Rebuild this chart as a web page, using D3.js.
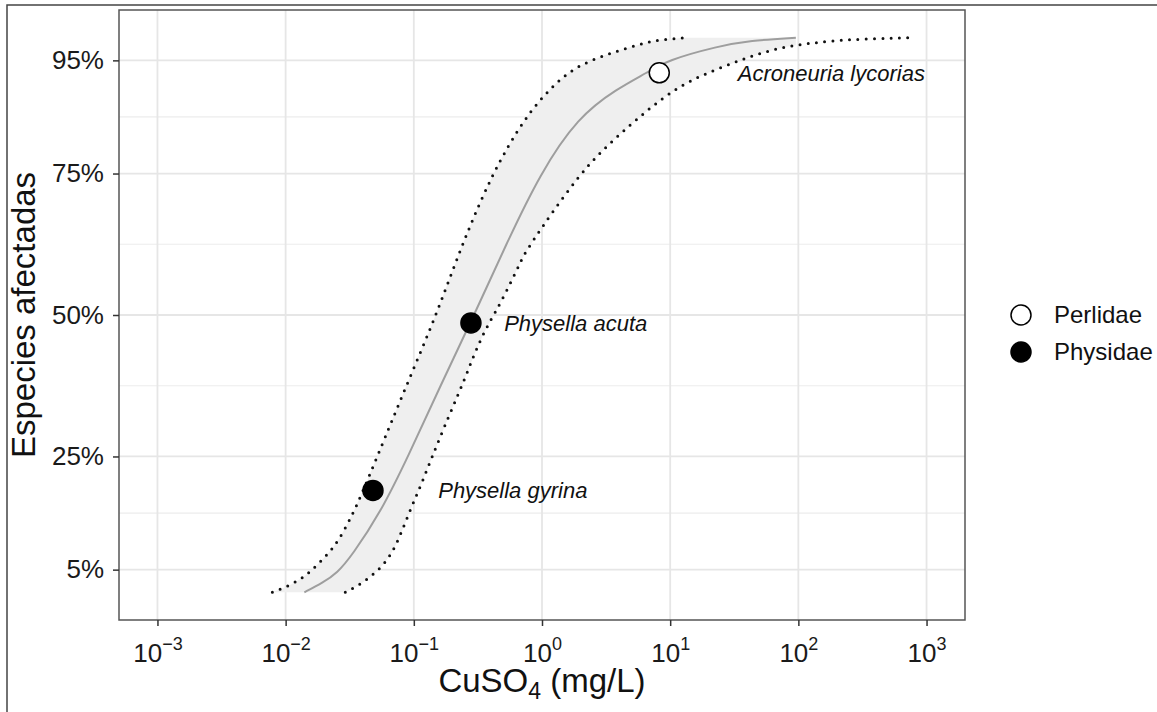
<!DOCTYPE html>
<html>
<head>
<meta charset="utf-8">
<script src="https://cdn.jsdelivr.net/npm/d3@7"></script>
<style>
  body { margin: 0; background: #fff; }
  svg { font-family: "Liberation Sans", Arial, sans-serif; }
</style>
</head>
<body>
<div id="io"></div>
<script>
// axis ticks
const xTicks = [1e-3, 1e-2, 1e-1, 1, 10, 100, 1000];
const xTickExp = ['\u22123', '\u22122', '\u22121', '0', '1', '2', '3'];
const yTicks = [5, 25, 50, 75, 95];
const yTickLabels = ['5%', '25%', '50%', '75%', '95%'];
const yMinor = [15, 37.5, 62.5, 85];

// fitted curve (mg/L vs % affected)
const fitPct = [1, 2.65, 4.4, 7.6, 15, 25, 37.5, 50, 62.5, 75, 85, 90, 92.9, 95, 97.5, 98.5, 99];
const fitConc = [0.014, 0.0193, 0.0253, 0.0331, 0.0547, 0.0904, 0.161, 0.296, 0.525, 0.966, 1.91, 3.85, 6.71, 9.44, 23.6, 41.9, 95.6];

// lower confidence limit (left dotted line)
const lowPct = [1, 2, 3.5, 5, 7.5, 10, 15, 19, 25, 37.5, 50, 62.5, 75, 85, 90, 92.5, 94.1, 95.4, 96.4, 97.3, 98.2, 98.7, 99];
const lowConc = [0.00788, 0.0103, 0.0135, 0.0162, 0.0208, 0.0258, 0.0337, 0.0403, 0.0519, 0.0873, 0.150, 0.238, 0.408, 0.738, 1.16, 1.54, 1.98, 2.69, 3.58, 4.86, 6.59, 8.79, 13.3];

// upper confidence limit (right dotted line)
const upPct = [1, 2, 3.4, 5.4, 7.5, 9.8, 13.3, 16.8, 20.4, 25, 32.7, 38, 42.6, 47.4, 50.4, 54.4, 59.2, 61.5, 75.2, 80.9, 86.2, 90.6, 93.2, 95.5, 97.3, 98.1, 98.7, 99];
const upConc = [0.0292, 0.0356, 0.0441, 0.0557, 0.0655, 0.0742, 0.0857, 0.0989, 0.116, 0.139, 0.192, 0.243, 0.290, 0.360, 0.431, 0.535, 0.675, 0.752, 1.98, 3.58, 6.59, 11.9, 21.6, 39.7, 71.8, 130, 239, 714];

// species points
const species = ['Physella gyrina', 'Physella acuta', 'Acroneuria lycorias'];
const speciesFamily = ['Physidae', 'Physidae', 'Perlidae'];
const speciesConc = [0.048, 0.279, 8.22];
const speciesPct = [19.0, 48.6, 92.8];
const labelConc = [0.155, 0.507, 33.7];

const families = ['Perlidae', 'Physidae'];
const familyFill = ['#fff', '#000'];

const W = 1157, H = 712;
const svg = d3.select('#io').append('svg').attr('width', W).attr('height', H);

// outer frame
svg.append('rect').attr('x', 7).attr('y', 5).attr('width', W + 10).attr('height', H + 10)
  .attr('fill', '#fff').attr('stroke', '#444').attr('stroke-width', 1.5);

const x = d3.scaleLog().domain([Math.pow(10, -3.3), Math.pow(10, 3.3)]).range([119, 965]);
const y = d3.scaleLinear().domain([-3.9, 103.9]).range([620, 10]);

const defs = svg.append('defs');
defs.append('clipPath').attr('id', 'panel').append('rect')
  .attr('x', 119).attr('y', 10).attr('width', 846).attr('height', 610);
defs.append('clipPath').attr('id', 'ribbon').append('rect')
  .attr('x', 119).attr('y', 10).attr('width', x(d3.max(fitConc)) - 119).attr('height', 610);

// grid
const grid = svg.append('g');
grid.selectAll('.ymin').data(yMinor).enter().append('line')
  .attr('x1', 119).attr('x2', 965).attr('y1', d => y(d)).attr('y2', d => y(d))
  .attr('stroke', '#ececec').attr('stroke-width', 1.2);
grid.selectAll('.ymaj').data(yTicks).enter().append('line')
  .attr('x1', 119).attr('x2', 965).attr('y1', d => y(d)).attr('y2', d => y(d))
  .attr('stroke', '#e6e6e6').attr('stroke-width', 1.8);
grid.selectAll('.xmaj').data(xTicks).enter().append('line')
  .attr('y1', 10).attr('y2', 620).attr('x1', d => x(d)).attr('x2', d => x(d))
  .attr('stroke', '#e6e6e6').attr('stroke-width', 1.8);

const fit = fitPct.map((p, i) => ({ p: p, c: fitConc[i] }));
const low = lowPct.map((p, i) => ({ p: p, c: lowConc[i] }));
const up = upPct.map((p, i) => ({ p: p, c: upConc[i] }));

const line = d3.line().x(d => x(d.c)).y(d => y(d.p)).curve(d3.curveBasis);

const plot = svg.append('g').attr('clip-path', 'url(#panel)');

// ribbon between the confidence limits
plot.append('path')
  .attr('d', line(low) + line(up.slice().reverse()).replace(/^M/, 'L') + 'Z')
  .attr('fill', '#efefef')
  .attr('clip-path', 'url(#ribbon)');

plot.append('path').attr('d', line(fit))
  .attr('fill', 'none').attr('stroke', '#9e9e9e').attr('stroke-width', 2);

[low, up].forEach(ci => {
  plot.append('path').attr('d', line(ci))
    .attr('fill', 'none').attr('stroke', '#111').attr('stroke-width', 3)
    .attr('stroke-linecap', 'round').attr('stroke-dasharray', '0 8.3');
});

// points
plot.selectAll('.pt').data(species).enter().append('circle')
  .attr('cx', (d, i) => x(speciesConc[i]))
  .attr('cy', (d, i) => y(speciesPct[i]))
  .attr('r', 10)
  .attr('fill', (d, i) => familyFill[families.indexOf(speciesFamily[i])])
  .attr('stroke', '#000').attr('stroke-width', 1.5);

plot.selectAll('.lab').data(species).enter().append('text')
  .attr('x', (d, i) => x(labelConc[i]))
  .attr('y', (d, i) => y(speciesPct[i]))
  .attr('dy', '0.35em')
  .attr('font-size', 22).attr('font-style', 'italic').attr('fill', '#111')
  .text(d => d);

// panel border
svg.append('rect').attr('x', 119).attr('y', 10).attr('width', 846).attr('height', 610)
  .attr('fill', 'none').attr('stroke', '#555').attr('stroke-width', 1.5);

// axes
const yAxis = svg.append('g').attr('transform', 'translate(119,0)')
  .call(d3.axisLeft(y).tickValues(yTicks).tickFormat((d, i) => yTickLabels[i]).tickSize(6).tickPadding(9));
const xAxis = svg.append('g').attr('transform', 'translate(0,620)')
  .call(d3.axisBottom(x).tickValues(xTicks).tickSize(6));

[yAxis, xAxis].forEach(a => {
  a.select('.domain').remove();
  a.selectAll('.tick line').attr('stroke', '#333').attr('stroke-width', 1.5);
  a.selectAll('text').attr('font-size', 26).attr('fill', '#1a1a1a')
    .attr('font-family', '"Liberation Sans", Arial, sans-serif');
});

xAxis.selectAll('.tick text').each(function (d, i) {
  const t = d3.select(this).text(null).attr('y', 42).attr('dy', null);
  t.append('tspan').text('10');
  t.append('tspan').attr('dy', -12).attr('font-size', 18).text(xTickExp[i]);
});

// axis titles
const xt = svg.append('text').attr('x', 542).attr('y', 692).attr('text-anchor', 'middle')
  .attr('font-size', 33).attr('fill', '#111');
xt.append('tspan').text('CuSO');
xt.append('tspan').attr('dy', 7).attr('font-size', 23).text('4');
xt.append('tspan').attr('dy', -7).text(' (mg/L)');

svg.append('text').attr('transform', 'translate(35,315) rotate(-90)')
  .attr('text-anchor', 'middle').attr('font-size', 33).attr('fill', '#111')
  .text('Especies afectadas');

// legend
const legend = svg.append('g').attr('transform', 'translate(1021,315)');
legend.selectAll('circle').data(families).enter().append('circle')
  .attr('cx', 0).attr('cy', (d, i) => i * 37).attr('r', 10)
  .attr('fill', (d, i) => familyFill[i]).attr('stroke', '#000').attr('stroke-width', 1.5);
legend.selectAll('text').data(families).enter().append('text')
  .attr('x', 33).attr('y', (d, i) => i * 37).attr('dy', '0.35em')
  .attr('font-size', 24).attr('fill', '#111')
  .text(d => d);
</script>
</body>
</html>
